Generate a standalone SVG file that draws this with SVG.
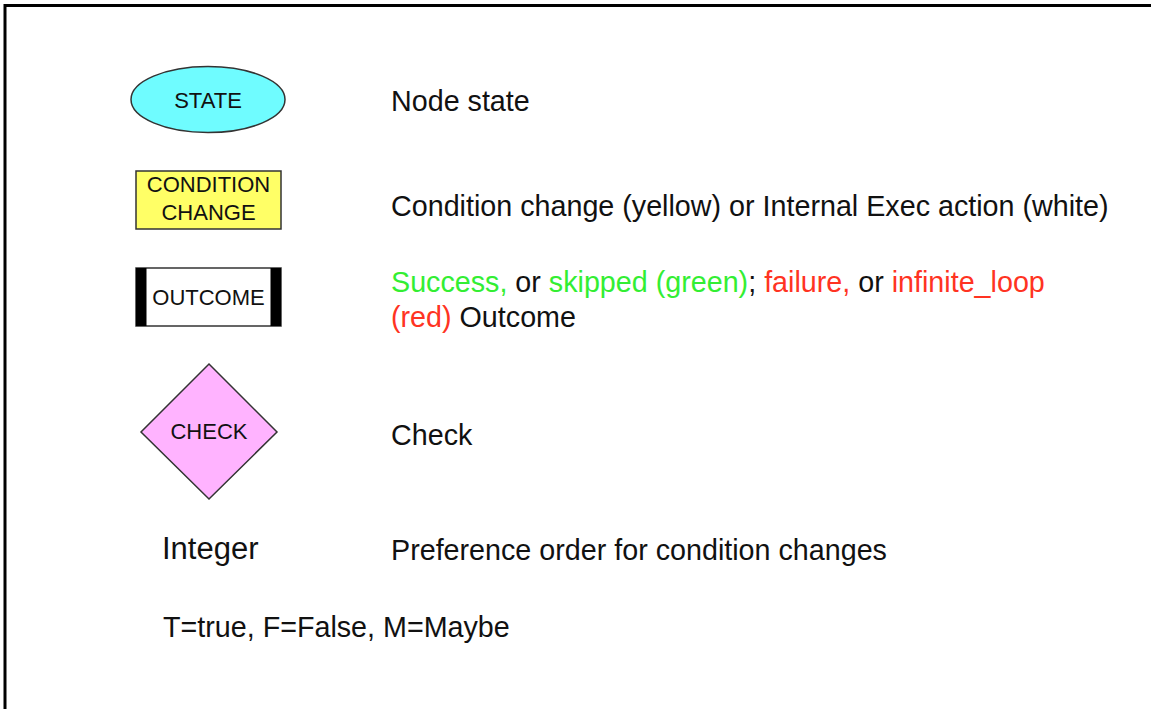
<svg xmlns="http://www.w3.org/2000/svg" width="1151" height="709" viewBox="0 0 1151 709">
  <style>
    .node-label { font-family: "Liberation Sans", Arial, sans-serif; font-size: 22px; fill: #111; text-anchor: middle; }
    .desc { font-family: "Liberation Sans", Arial, sans-serif; font-size: 28.7px; fill: #111; }
    .ok { fill: #33ee33; }
    .bad { fill: #ff3322; }
    .shape { stroke: #333; stroke-width: 1.5; }
  </style>
  <rect x="0" y="0" width="1151" height="709" fill="#fff"/>
  <!-- page frame: top and left edges only -->
  <path d="M5,709 V5.5 H1151" fill="none" stroke="#000" stroke-width="3"/>

  <g id="state">
    <ellipse class="shape" cx="208" cy="99.5" rx="77" ry="33" fill="#6ffcff"/>
    <text class="node-label" x="208" y="108">STATE</text>
  </g>
  <g id="condition-change">
    <rect class="shape" x="136" y="171" width="145" height="58" fill="#ffff66"/>
    <text class="node-label" x="208.5" y="192">CONDITION</text>
    <text class="node-label" x="208.5" y="219.5">CHANGE</text>
  </g>
  <g id="outcome">
    <rect class="shape" x="136" y="268" width="145" height="58" fill="#fff"/>
    <rect x="136" y="268" width="10.5" height="58" fill="#000"/>
    <rect x="270.5" y="268" width="10.5" height="58" fill="#000"/>
    <text class="node-label" x="208.5" y="305">OUTCOME</text>
  </g>
  <g id="check">
    <polygon class="shape" points="209,364 277,432 209,499 141,432" fill="#ffb3ff"/>
    <text class="node-label" x="209" y="439">CHECK</text>
  </g>
  <g id="integer">
    <text x="162" y="558.5" font-family="Liberation Sans, Arial, sans-serif" font-size="31" fill="#111">Integer</text>
  </g>

  <g id="legend-text">
    <text class="desc" x="391" y="110.5">Node state</text>
    <text class="desc" x="391" y="215.5">Condition change (yellow) or Internal Exec action (white)</text>
    <text class="desc" x="391" y="291.5"><tspan class="ok">Success,</tspan> or <tspan class="ok">skipped (green)</tspan>; <tspan class="bad">failure,</tspan> or <tspan class="bad">infinite_loop</tspan></text>
    <text class="desc" x="391" y="327"><tspan class="bad">(red)</tspan> Outcome</text>
    <text class="desc" x="391" y="445">Check</text>
    <text class="desc" x="391" y="560">Preference order for condition changes</text>
    <text class="desc" x="163" y="637">T=true, F=False, M=Maybe</text>
  </g>
  <g id="connectors"/>
</svg>
